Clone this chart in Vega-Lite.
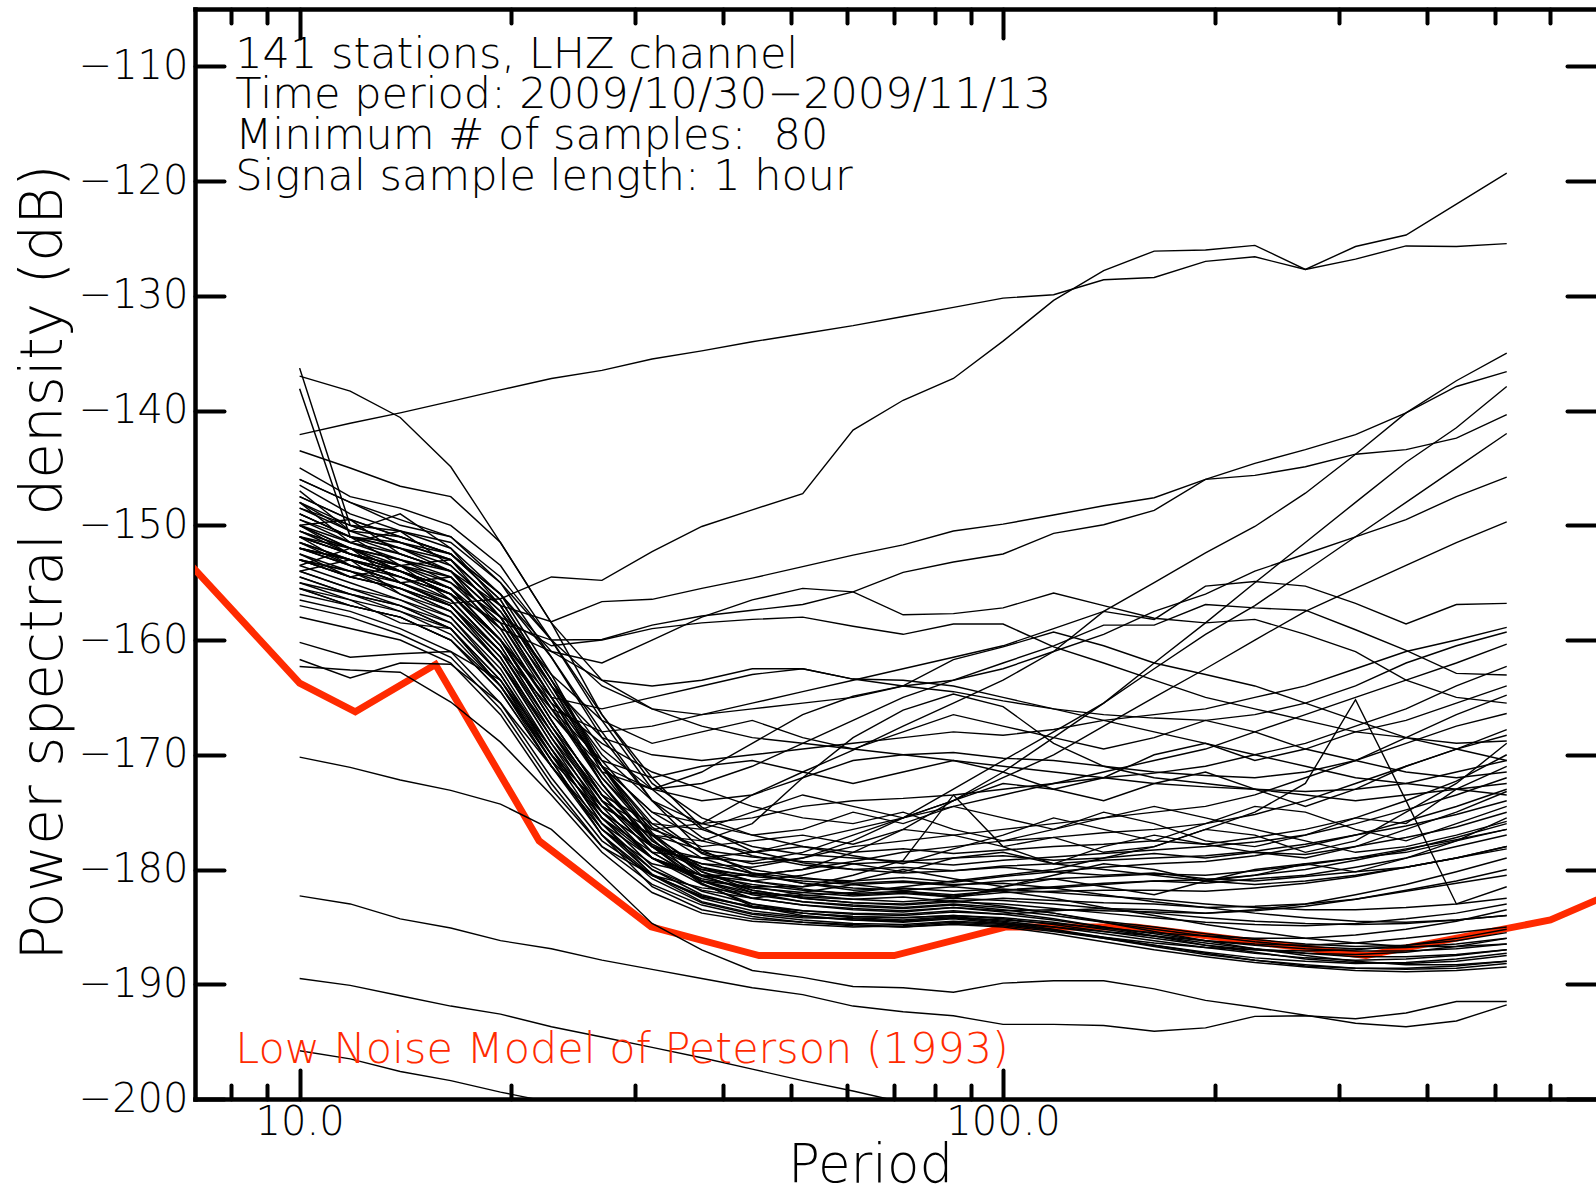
{
"$schema":"https://vega.github.io/schema/vega-lite/v6.json",
"width":1401,"height":1090,
"autosize":{"type":"none"},
"padding":{"left":195,"top":9,"right":0,"bottom":93},
"background":"white",
"config":{"view":{"stroke":null},"axis":{"grid":false,"labelFont":"DejaVu Sans","titleFont":"DejaVu Sans","labelFontWeight":200,"domainColor":"black","tickColor":"black","labelColor":"black","titleColor":"black","domainWidth":4.5,"tickWidth":4,"tickCap":"round","domainCap":"square"}},
"resolve":{"axis":{"x":"independent","y":"independent"}},
"datasets":{
"nlnm":[{"p":6,"v":-149},{"p":10,"v":-163.75},{"p":12,"v":-166.25},{"p":15.6,"v":-162.13},{"p":21.9,"v":-177.5},{"p":31.6,"v":-185},{"p":45,"v":-187.5},{"p":70,"v":-187.5},{"p":101,"v":-185},{"p":154,"v":-185},{"p":328,"v":-187.5},{"p":600,"v":-184.4},{"p":1000,"v":-178.5}],
"bundle":[
{"s":1,"p":10,"v":-143.5},{"s":1,"p":11.8,"v":-145},{"s":1,"p":13.9,"v":-146.6},{"s":1,"p":16.4,"v":-147.5},{"s":1,"p":19.3,"v":-151.5},{"s":1,"p":22.8,"v":-158.5},{"s":1,"p":26.9,"v":-166.5},{"s":1,"p":31.7,"v":-172.5},{"s":1,"p":37.3,"v":-175.5},{"s":1,"p":44,"v":-177},{"s":1,"p":51.9,"v":-178},{"s":1,"p":61.2,"v":-178.5},{"s":1,"p":72.1,"v":-178.2},{"s":1,"p":85,"v":-178.6},{"s":1,"p":100,"v":-178.3},{"s":1,"p":118,"v":-178},{"s":1,"p":139,"v":-177.8},{"s":1,"p":164,"v":-177.5},{"s":1,"p":194,"v":-177.8},{"s":1,"p":228,"v":-177.2},{"s":1,"p":269,"v":-176.5},{"s":1,"p":317,"v":-175.5},{"s":1,"p":374,"v":-174},{"s":1,"p":441,"v":-172.3},{"s":1,"p":520,"v":-170},
{"s":2,"p":10,"v":-145},{"s":2,"p":11.8,"v":-147.5},{"s":2,"p":13.9,"v":-148.5},{"s":2,"p":16.4,"v":-150},{"s":2,"p":19.3,"v":-153.5},{"s":2,"p":22.8,"v":-160},{"s":2,"p":26.9,"v":-167},{"s":2,"p":31.7,"v":-173},{"s":2,"p":37.3,"v":-176.5},{"s":2,"p":44,"v":-178},{"s":2,"p":51.9,"v":-178.7},{"s":2,"p":61.2,"v":-179},{"s":2,"p":72.1,"v":-179.3},{"s":2,"p":85,"v":-179},{"s":2,"p":100,"v":-178.8},{"s":2,"p":118,"v":-179.2},{"s":2,"p":139,"v":-179},{"s":2,"p":164,"v":-178.6},{"s":2,"p":194,"v":-179},{"s":2,"p":228,"v":-178.5},{"s":2,"p":269,"v":-178.7},{"s":2,"p":317,"v":-178},{"s":2,"p":374,"v":-177.2},{"s":2,"p":441,"v":-176.3},{"s":2,"p":520,"v":-175},
{"s":3,"p":10,"v":-146},{"s":3,"p":11.8,"v":-148},{"s":3,"p":13.9,"v":-150},{"s":3,"p":16.4,"v":-151},{"s":3,"p":19.3,"v":-155},{"s":3,"p":22.8,"v":-161.5},{"s":3,"p":26.9,"v":-168.5},{"s":3,"p":31.7,"v":-174},{"s":3,"p":37.3,"v":-177.2},{"s":3,"p":44,"v":-178.8},{"s":3,"p":51.9,"v":-179.6},{"s":3,"p":61.2,"v":-180},{"s":3,"p":72.1,"v":-180.3},{"s":3,"p":85,"v":-180.1},{"s":3,"p":100,"v":-179.8},{"s":3,"p":118,"v":-180.2},{"s":3,"p":139,"v":-180.5},{"s":3,"p":164,"v":-180.3},{"s":3,"p":194,"v":-180.8},{"s":3,"p":228,"v":-181},{"s":3,"p":269,"v":-180.6},{"s":3,"p":317,"v":-180.2},{"s":3,"p":374,"v":-179.8},{"s":3,"p":441,"v":-179},{"s":3,"p":520,"v":-178},
{"s":4,"p":10,"v":-148},{"s":4,"p":11.8,"v":-150.5},{"s":4,"p":13.9,"v":-151},{"s":4,"p":16.4,"v":-152.5},{"s":4,"p":19.3,"v":-156.5},{"s":4,"p":22.8,"v":-163.5},{"s":4,"p":26.9,"v":-170.5},{"s":4,"p":31.7,"v":-175.5},{"s":4,"p":37.3,"v":-178.6},{"s":4,"p":44,"v":-180},{"s":4,"p":51.9,"v":-180.7},{"s":4,"p":61.2,"v":-181.2},{"s":4,"p":72.1,"v":-181},{"s":4,"p":85,"v":-181.3},{"s":4,"p":100,"v":-181.2},{"s":4,"p":118,"v":-181.6},{"s":4,"p":139,"v":-182.2},{"s":4,"p":164,"v":-182.8},{"s":4,"p":194,"v":-183.3},{"s":4,"p":228,"v":-183.8},{"s":4,"p":269,"v":-184.2},{"s":4,"p":317,"v":-184.5},{"s":4,"p":374,"v":-184.6},{"s":4,"p":441,"v":-184.4},{"s":4,"p":520,"v":-184},
{"s":5,"p":10,"v":-149},{"s":5,"p":11.8,"v":-151},{"s":5,"p":13.9,"v":-152},{"s":5,"p":16.4,"v":-153.5},{"s":5,"p":19.3,"v":-157.5},{"s":5,"p":22.8,"v":-164.5},{"s":5,"p":26.9,"v":-171},{"s":5,"p":31.7,"v":-176.3},{"s":5,"p":37.3,"v":-179},{"s":5,"p":44,"v":-180.4},{"s":5,"p":51.9,"v":-181.2},{"s":5,"p":61.2,"v":-181.6},{"s":5,"p":72.1,"v":-181.8},{"s":5,"p":85,"v":-181.5},{"s":5,"p":100,"v":-181.9},{"s":5,"p":118,"v":-182.5},{"s":5,"p":139,"v":-183.3},{"s":5,"p":164,"v":-184},{"s":5,"p":194,"v":-184.8},{"s":5,"p":228,"v":-185.4},{"s":5,"p":269,"v":-186},{"s":5,"p":317,"v":-186.4},{"s":5,"p":374,"v":-186.7},{"s":5,"p":441,"v":-186.7},{"s":5,"p":520,"v":-186.5},
{"s":6,"p":10,"v":-150},{"s":6,"p":11.8,"v":-151.5},{"s":6,"p":13.9,"v":-153},{"s":6,"p":16.4,"v":-154},{"s":6,"p":19.3,"v":-158},{"s":6,"p":22.8,"v":-165},{"s":6,"p":26.9,"v":-172},{"s":6,"p":31.7,"v":-177},{"s":6,"p":37.3,"v":-179.8},{"s":6,"p":44,"v":-181},{"s":6,"p":51.9,"v":-181.7},{"s":6,"p":61.2,"v":-182.2},{"s":6,"p":72.1,"v":-182},{"s":6,"p":85,"v":-182.3},{"s":6,"p":100,"v":-181.8},{"s":6,"p":118,"v":-181.5},{"s":6,"p":139,"v":-181.2},{"s":6,"p":164,"v":-181},{"s":6,"p":194,"v":-181.2},{"s":6,"p":228,"v":-180.8},{"s":6,"p":269,"v":-180.5},{"s":6,"p":317,"v":-179.8},{"s":6,"p":374,"v":-179},{"s":6,"p":441,"v":-178},{"s":6,"p":520,"v":-177},
{"s":7,"p":10,"v":-150.5},{"s":7,"p":11.8,"v":-152.5},{"s":7,"p":13.9,"v":-153.5},{"s":7,"p":16.4,"v":-155},{"s":7,"p":19.3,"v":-159},{"s":7,"p":22.8,"v":-166},{"s":7,"p":26.9,"v":-172.5},{"s":7,"p":31.7,"v":-177.5},{"s":7,"p":37.3,"v":-180.2},{"s":7,"p":44,"v":-181.5},{"s":7,"p":51.9,"v":-182.2},{"s":7,"p":61.2,"v":-182.6},{"s":7,"p":72.1,"v":-182.4},{"s":7,"p":85,"v":-182.8},{"s":7,"p":100,"v":-182.5},{"s":7,"p":118,"v":-182.7},{"s":7,"p":139,"v":-182.9},{"s":7,"p":164,"v":-183},{"s":7,"p":194,"v":-183.3},{"s":7,"p":228,"v":-183.2},{"s":7,"p":269,"v":-183},{"s":7,"p":317,"v":-182.6},{"s":7,"p":374,"v":-181.8},{"s":7,"p":441,"v":-181},{"s":7,"p":520,"v":-180},
{"s":8,"p":10,"v":-151},{"s":8,"p":11.8,"v":-152},{"s":8,"p":13.9,"v":-154},{"s":8,"p":16.4,"v":-155.5},{"s":8,"p":19.3,"v":-160},{"s":8,"p":22.8,"v":-167},{"s":8,"p":26.9,"v":-173.5},{"s":8,"p":31.7,"v":-178},{"s":8,"p":37.3,"v":-180.6},{"s":8,"p":44,"v":-181.8},{"s":8,"p":51.9,"v":-182.5},{"s":8,"p":61.2,"v":-182.9},{"s":8,"p":72.1,"v":-183.1},{"s":8,"p":85,"v":-182.8},{"s":8,"p":100,"v":-183},{"s":8,"p":118,"v":-183.4},{"s":8,"p":139,"v":-183.8},{"s":8,"p":164,"v":-184.2},{"s":8,"p":194,"v":-184.6},{"s":8,"p":228,"v":-184.8},{"s":8,"p":269,"v":-184.9},{"s":8,"p":317,"v":-184.7},{"s":8,"p":374,"v":-184.3},{"s":8,"p":441,"v":-183.8},{"s":8,"p":520,"v":-183},
{"s":9,"p":10,"v":-151.5},{"s":9,"p":11.8,"v":-153},{"s":9,"p":13.9,"v":-154},{"s":9,"p":16.4,"v":-156},{"s":9,"p":19.3,"v":-160.5},{"s":9,"p":22.8,"v":-167.5},{"s":9,"p":26.9,"v":-174},{"s":9,"p":31.7,"v":-178.5},{"s":9,"p":37.3,"v":-181},{"s":9,"p":44,"v":-182.2},{"s":9,"p":51.9,"v":-182.8},{"s":9,"p":61.2,"v":-183.1},{"s":9,"p":72.1,"v":-183.3},{"s":9,"p":85,"v":-183},{"s":9,"p":100,"v":-183.3},{"s":9,"p":118,"v":-183.8},{"s":9,"p":139,"v":-184.5},{"s":9,"p":164,"v":-185},{"s":9,"p":194,"v":-185.6},{"s":9,"p":228,"v":-186.1},{"s":9,"p":269,"v":-186.5},{"s":9,"p":317,"v":-186.7},{"s":9,"p":374,"v":-186.6},{"s":9,"p":441,"v":-186.2},{"s":9,"p":520,"v":-185.5},
{"s":10,"p":10,"v":-152},{"s":10,"p":11.8,"v":-153.5},{"s":10,"p":13.9,"v":-155},{"s":10,"p":16.4,"v":-156.5},{"s":10,"p":19.3,"v":-161},{"s":10,"p":22.8,"v":-168},{"s":10,"p":26.9,"v":-174.5},{"s":10,"p":31.7,"v":-179},{"s":10,"p":37.3,"v":-181.3},{"s":10,"p":44,"v":-182.5},{"s":10,"p":51.9,"v":-183.1},{"s":10,"p":61.2,"v":-183.4},{"s":10,"p":72.1,"v":-183.6},{"s":10,"p":85,"v":-183.3},{"s":10,"p":100,"v":-183.7},{"s":10,"p":118,"v":-184.3},{"s":10,"p":139,"v":-185},{"s":10,"p":164,"v":-185.8},{"s":10,"p":194,"v":-186.6},{"s":10,"p":228,"v":-187.2},{"s":10,"p":269,"v":-187.8},{"s":10,"p":317,"v":-188.1},{"s":10,"p":374,"v":-188.2},{"s":10,"p":441,"v":-188},{"s":10,"p":520,"v":-187.5},
{"s":11,"p":10,"v":-153},{"s":11,"p":11.8,"v":-154.5},{"s":11,"p":13.9,"v":-155.5},{"s":11,"p":16.4,"v":-157.5},{"s":11,"p":19.3,"v":-162},{"s":11,"p":22.8,"v":-169},{"s":11,"p":26.9,"v":-175.5},{"s":11,"p":31.7,"v":-179.7},{"s":11,"p":37.3,"v":-181.9},{"s":11,"p":44,"v":-183},{"s":11,"p":51.9,"v":-183.6},{"s":11,"p":61.2,"v":-183.9},{"s":11,"p":72.1,"v":-184},{"s":11,"p":85,"v":-183.7},{"s":11,"p":100,"v":-183.9},{"s":11,"p":118,"v":-183.6},{"s":11,"p":139,"v":-183.4},{"s":11,"p":164,"v":-183.5},{"s":11,"p":194,"v":-183.8},{"s":11,"p":228,"v":-183.5},{"s":11,"p":269,"v":-183},{"s":11,"p":317,"v":-182.2},{"s":11,"p":374,"v":-181.3},{"s":11,"p":441,"v":-180.2},{"s":11,"p":520,"v":-179},
{"s":12,"p":10,"v":-153.5},{"s":12,"p":11.8,"v":-155},{"s":12,"p":13.9,"v":-156.5},{"s":12,"p":16.4,"v":-158},{"s":12,"p":19.3,"v":-162.5},{"s":12,"p":22.8,"v":-169.5},{"s":12,"p":26.9,"v":-176},{"s":12,"p":31.7,"v":-180},{"s":12,"p":37.3,"v":-182.2},{"s":12,"p":44,"v":-183.3},{"s":12,"p":51.9,"v":-183.8},{"s":12,"p":61.2,"v":-184.1},{"s":12,"p":72.1,"v":-184.2},{"s":12,"p":85,"v":-184},{"s":12,"p":100,"v":-184.3},{"s":12,"p":118,"v":-184.8},{"s":12,"p":139,"v":-185.4},{"s":12,"p":164,"v":-186},{"s":12,"p":194,"v":-186.6},{"s":12,"p":228,"v":-187},{"s":12,"p":269,"v":-187.3},{"s":12,"p":317,"v":-187.4},{"s":12,"p":374,"v":-187.2},{"s":12,"p":441,"v":-186.7},{"s":12,"p":520,"v":-186},
{"s":13,"p":10,"v":-154},{"s":13,"p":11.8,"v":-155.5},{"s":13,"p":13.9,"v":-157},{"s":13,"p":16.4,"v":-158.5},{"s":13,"p":19.3,"v":-163},{"s":13,"p":22.8,"v":-170},{"s":13,"p":26.9,"v":-176.5},{"s":13,"p":31.7,"v":-180.4},{"s":13,"p":37.3,"v":-182.5},{"s":13,"p":44,"v":-183.6},{"s":13,"p":51.9,"v":-184.1},{"s":13,"p":61.2,"v":-184.4},{"s":13,"p":72.1,"v":-184.5},{"s":13,"p":85,"v":-184.2},{"s":13,"p":100,"v":-184.6},{"s":13,"p":118,"v":-185.2},{"s":13,"p":139,"v":-185.9},{"s":13,"p":164,"v":-186.6},{"s":13,"p":194,"v":-187.3},{"s":13,"p":228,"v":-187.9},{"s":13,"p":269,"v":-188.4},{"s":13,"p":317,"v":-188.6},{"s":13,"p":374,"v":-188.6},{"s":13,"p":441,"v":-188.4},{"s":13,"p":520,"v":-188},
{"s":14,"p":10,"v":-154.5},{"s":14,"p":11.8,"v":-156},{"s":14,"p":13.9,"v":-157},{"s":14,"p":16.4,"v":-159},{"s":14,"p":19.3,"v":-163.5},{"s":14,"p":22.8,"v":-170.5},{"s":14,"p":26.9,"v":-177},{"s":14,"p":31.7,"v":-180.8},{"s":14,"p":37.3,"v":-182.9},{"s":14,"p":44,"v":-183.9},{"s":14,"p":51.9,"v":-184.4},{"s":14,"p":61.2,"v":-184.7},{"s":14,"p":72.1,"v":-184.8},{"s":14,"p":85,"v":-184.5},{"s":14,"p":100,"v":-184.7},{"s":14,"p":118,"v":-185},{"s":14,"p":139,"v":-185.4},{"s":14,"p":164,"v":-185.8},{"s":14,"p":194,"v":-186.2},{"s":14,"p":228,"v":-186.5},{"s":14,"p":269,"v":-186.6},{"s":14,"p":317,"v":-186.4},{"s":14,"p":374,"v":-186},{"s":14,"p":441,"v":-185.5},{"s":14,"p":520,"v":-185},
{"s":15,"p":10,"v":-155},{"s":15,"p":11.8,"v":-156},{"s":15,"p":13.9,"v":-157.5},{"s":15,"p":16.4,"v":-159},{"s":15,"p":19.3,"v":-164},{"s":15,"p":22.8,"v":-170.5},{"s":15,"p":26.9,"v":-175},{"s":15,"p":31.7,"v":-178},{"s":15,"p":37.3,"v":-179.5},{"s":15,"p":44,"v":-180.3},{"s":15,"p":51.9,"v":-180.8},{"s":15,"p":61.2,"v":-181},{"s":15,"p":72.1,"v":-180.7},{"s":15,"p":85,"v":-181.1},{"s":15,"p":100,"v":-180.6},{"s":15,"p":118,"v":-180.2},{"s":15,"p":139,"v":-179.8},{"s":15,"p":164,"v":-179.5},{"s":15,"p":194,"v":-179.3},{"s":15,"p":228,"v":-178.8},{"s":15,"p":269,"v":-178},{"s":15,"p":317,"v":-177},{"s":15,"p":374,"v":-175.8},{"s":15,"p":441,"v":-174.5},{"s":15,"p":520,"v":-173},
{"s":16,"p":10,"v":-155.5},{"s":16,"p":11.8,"v":-157},{"s":16,"p":13.9,"v":-158},{"s":16,"p":16.4,"v":-160},{"s":16,"p":19.3,"v":-164.5},{"s":16,"p":22.8,"v":-171},{"s":16,"p":26.9,"v":-176},{"s":16,"p":31.7,"v":-179},{"s":16,"p":37.3,"v":-180.5},{"s":16,"p":44,"v":-181.3},{"s":16,"p":51.9,"v":-181.8},{"s":16,"p":61.2,"v":-182.1},{"s":16,"p":72.1,"v":-181.9},{"s":16,"p":85,"v":-182.2},{"s":16,"p":100,"v":-181.8},{"s":16,"p":118,"v":-181.6},{"s":16,"p":139,"v":-181.3},{"s":16,"p":164,"v":-181},{"s":16,"p":194,"v":-180.9},{"s":16,"p":228,"v":-180.5},{"s":16,"p":269,"v":-180},{"s":16,"p":317,"v":-179.2},{"s":16,"p":374,"v":-178.3},{"s":16,"p":441,"v":-177.2},{"s":16,"p":520,"v":-176},
{"s":17,"p":10,"v":-156.5},{"s":17,"p":11.8,"v":-157.5},{"s":17,"p":13.9,"v":-159},{"s":17,"p":16.4,"v":-161},{"s":17,"p":19.3,"v":-165.5},{"s":17,"p":22.8,"v":-172},{"s":17,"p":26.9,"v":-177.5},{"s":17,"p":31.7,"v":-180.5},{"s":17,"p":37.3,"v":-182.3},{"s":17,"p":44,"v":-183.3},{"s":17,"p":51.9,"v":-183.8},{"s":17,"p":61.2,"v":-184.1},{"s":17,"p":72.1,"v":-184.2},{"s":17,"p":85,"v":-184},{"s":17,"p":100,"v":-184.2},{"s":17,"p":118,"v":-184.6},{"s":17,"p":139,"v":-185.2},{"s":17,"p":164,"v":-185.8},{"s":17,"p":194,"v":-186.4},{"s":17,"p":228,"v":-186.9},{"s":17,"p":269,"v":-187.3},{"s":17,"p":317,"v":-187.6},{"s":17,"p":374,"v":-187.6},{"s":17,"p":441,"v":-187.4},{"s":17,"p":520,"v":-187},
{"s":18,"p":10,"v":-157},{"s":18,"p":11.8,"v":-158},{"s":18,"p":13.9,"v":-159.5},{"s":18,"p":16.4,"v":-161.5},{"s":18,"p":19.3,"v":-166},{"s":18,"p":22.8,"v":-172.5},{"s":18,"p":26.9,"v":-178},{"s":18,"p":31.7,"v":-181.3},{"s":18,"p":37.3,"v":-183.1},{"s":18,"p":44,"v":-184.1},{"s":18,"p":51.9,"v":-184.6},{"s":18,"p":61.2,"v":-184.9},{"s":18,"p":72.1,"v":-185},{"s":18,"p":85,"v":-184.8},{"s":18,"p":100,"v":-185},{"s":18,"p":118,"v":-185.6},{"s":18,"p":139,"v":-186.3},{"s":18,"p":164,"v":-187},{"s":18,"p":194,"v":-187.6},{"s":18,"p":228,"v":-188.1},{"s":18,"p":269,"v":-188.5},{"s":18,"p":317,"v":-188.8},{"s":18,"p":374,"v":-188.9},{"s":18,"p":441,"v":-188.8},{"s":18,"p":520,"v":-188.5},
{"s":19,"p":10,"v":-158},{"s":19,"p":11.8,"v":-159},{"s":19,"p":13.9,"v":-160},{"s":19,"p":16.4,"v":-162},{"s":19,"p":19.3,"v":-166.5},{"s":19,"p":22.8,"v":-173},{"s":19,"p":26.9,"v":-178},{"s":19,"p":31.7,"v":-180.5},{"s":19,"p":37.3,"v":-181.6},{"s":19,"p":44,"v":-182.1},{"s":19,"p":51.9,"v":-182.4},{"s":19,"p":61.2,"v":-182.6},{"s":19,"p":72.1,"v":-182.8},{"s":19,"p":85,"v":-182.5},{"s":19,"p":100,"v":-182.7},{"s":19,"p":118,"v":-183},{"s":19,"p":139,"v":-183.4},{"s":19,"p":164,"v":-183.8},{"s":19,"p":194,"v":-184.2},{"s":19,"p":228,"v":-184.5},{"s":19,"p":269,"v":-184.7},{"s":19,"p":317,"v":-184.8},{"s":19,"p":374,"v":-184.7},{"s":19,"p":441,"v":-184.4},{"s":19,"p":520,"v":-184},
{"s":20,"p":10,"v":-148.5},{"s":20,"p":11.8,"v":-150.5},{"s":20,"p":13.9,"v":-152},{"s":20,"p":16.4,"v":-153},{"s":20,"p":19.3,"v":-157},{"s":20,"p":22.8,"v":-164},{"s":20,"p":26.9,"v":-171.5},{"s":20,"p":31.7,"v":-177},{"s":20,"p":37.3,"v":-180.5},{"s":20,"p":44,"v":-182},{"s":20,"p":51.9,"v":-182.8},{"s":20,"p":61.2,"v":-183.2},{"s":20,"p":72.1,"v":-183.4},{"s":20,"p":85,"v":-183.1},{"s":20,"p":100,"v":-183.5},{"s":20,"p":118,"v":-184},{"s":20,"p":139,"v":-184.6},{"s":20,"p":164,"v":-185.2},{"s":20,"p":194,"v":-185.8},{"s":20,"p":228,"v":-186.3},{"s":20,"p":269,"v":-186.7},{"s":20,"p":317,"v":-186.9},{"s":20,"p":374,"v":-186.8},{"s":20,"p":441,"v":-186.5},{"s":20,"p":520,"v":-186},
{"s":21,"p":10,"v":-150},{"s":21,"p":11.8,"v":-152},{"s":21,"p":13.9,"v":-153.5},{"s":21,"p":16.4,"v":-154.5},{"s":21,"p":19.3,"v":-158.5},{"s":21,"p":22.8,"v":-165.5},{"s":21,"p":26.9,"v":-172.5},{"s":21,"p":31.7,"v":-178},{"s":21,"p":37.3,"v":-181.3},{"s":21,"p":44,"v":-183},{"s":21,"p":51.9,"v":-183.8},{"s":21,"p":61.2,"v":-184.2},{"s":21,"p":72.1,"v":-184.4},{"s":21,"p":85,"v":-184.1},{"s":21,"p":100,"v":-184.5},{"s":21,"p":118,"v":-185},{"s":21,"p":139,"v":-185.6},{"s":21,"p":164,"v":-186.2},{"s":21,"p":194,"v":-186.8},{"s":21,"p":228,"v":-187.3},{"s":21,"p":269,"v":-187.7},{"s":21,"p":317,"v":-187.9},{"s":21,"p":374,"v":-187.8},{"s":21,"p":441,"v":-187.5},{"s":21,"p":520,"v":-187},
{"s":22,"p":10,"v":-138.1},{"s":22,"p":11.8,"v":-151},{"s":22,"p":13.9,"v":-151.5},{"s":22,"p":16.4,"v":-152.5},{"s":22,"p":19.3,"v":-156},{"s":22,"p":22.8,"v":-161.5},{"s":22,"p":26.9,"v":-168},{"s":22,"p":31.7,"v":-174},{"s":22,"p":37.3,"v":-178.3},{"s":22,"p":44,"v":-180.3},{"s":22,"p":51.9,"v":-181.2},{"s":22,"p":61.2,"v":-181.8},{"s":22,"p":72.1,"v":-181.6},{"s":22,"p":85,"v":-181.9},{"s":22,"p":100,"v":-181.7},{"s":22,"p":118,"v":-182},{"s":22,"p":139,"v":-182.3},{"s":22,"p":164,"v":-182.6},{"s":22,"p":194,"v":-183},{"s":22,"p":228,"v":-183.3},{"s":22,"p":269,"v":-183.5},{"s":22,"p":317,"v":-183.5},{"s":22,"p":374,"v":-183.3},{"s":22,"p":441,"v":-183},{"s":22,"p":520,"v":-182.5},
{"s":23,"p":10,"v":-136.3},{"s":23,"p":11.8,"v":-150},{"s":23,"p":13.9,"v":-150.5},{"s":23,"p":16.4,"v":-151.5},{"s":23,"p":19.3,"v":-155},{"s":23,"p":22.8,"v":-160},{"s":23,"p":26.9,"v":-166.5},{"s":23,"p":31.7,"v":-172},{"s":23,"p":37.3,"v":-176.3},{"s":23,"p":44,"v":-178.4},{"s":23,"p":51.9,"v":-179.4},{"s":23,"p":61.2,"v":-180},{"s":23,"p":72.1,"v":-179.8},{"s":23,"p":85,"v":-180.1},{"s":23,"p":100,"v":-179.7},{"s":23,"p":118,"v":-179.5},{"s":23,"p":139,"v":-179.2},{"s":23,"p":164,"v":-179},{"s":23,"p":194,"v":-178.8},{"s":23,"p":228,"v":-178.4},{"s":23,"p":269,"v":-177.8},{"s":23,"p":317,"v":-177},{"s":23,"p":374,"v":-176.2},{"s":23,"p":441,"v":-175.2},{"s":23,"p":520,"v":-174},
{"s":24,"p":10,"v":-147.5},{"s":24,"p":11.8,"v":-149.5},{"s":24,"p":13.9,"v":-151},{"s":24,"p":16.4,"v":-152.5},{"s":24,"p":19.3,"v":-156.5},{"s":24,"p":22.8,"v":-163.5},{"s":24,"p":26.9,"v":-171},{"s":24,"p":31.7,"v":-176.8},{"s":24,"p":37.3,"v":-180.2},{"s":24,"p":44,"v":-181.8},{"s":24,"p":51.9,"v":-182.5},{"s":24,"p":61.2,"v":-182.9},{"s":24,"p":72.1,"v":-183},{"s":24,"p":85,"v":-182.7},{"s":24,"p":100,"v":-183.2},{"s":24,"p":118,"v":-183.8},{"s":24,"p":139,"v":-184.6},{"s":24,"p":164,"v":-185.4},{"s":24,"p":194,"v":-186.2},{"s":24,"p":228,"v":-186.9},{"s":24,"p":269,"v":-187.5},{"s":24,"p":317,"v":-188},{"s":24,"p":374,"v":-188.3},{"s":24,"p":441,"v":-188.3},{"s":24,"p":520,"v":-188},
{"s":25,"p":10,"v":-149.5},{"s":25,"p":11.8,"v":-151.5},{"s":25,"p":13.9,"v":-152.5},{"s":25,"p":16.4,"v":-154},{"s":25,"p":19.3,"v":-158},{"s":25,"p":22.8,"v":-165},{"s":25,"p":26.9,"v":-172.5},{"s":25,"p":31.7,"v":-178},{"s":25,"p":37.3,"v":-181},{"s":25,"p":44,"v":-182.5},{"s":25,"p":51.9,"v":-183.1},{"s":25,"p":61.2,"v":-183.5},{"s":25,"p":72.1,"v":-183.7},{"s":25,"p":85,"v":-183.3},{"s":25,"p":100,"v":-183.6},{"s":25,"p":118,"v":-183.5},{"s":25,"p":139,"v":-183.6},{"s":25,"p":164,"v":-183.7},{"s":25,"p":194,"v":-183.8},{"s":25,"p":228,"v":-183.6},{"s":25,"p":269,"v":-183.2},{"s":25,"p":317,"v":-182.6},{"s":25,"p":374,"v":-181.9},{"s":25,"p":441,"v":-181.2},{"s":25,"p":520,"v":-180.5},
{"s":26,"p":10,"v":-153},{"s":26,"p":11.8,"v":-154},{"s":26,"p":13.9,"v":-155.5},{"s":26,"p":16.4,"v":-157},{"s":26,"p":19.3,"v":-161.5},{"s":26,"p":22.8,"v":-168.5},{"s":26,"p":26.9,"v":-175},{"s":26,"p":31.7,"v":-179},{"s":26,"p":37.3,"v":-180.8},{"s":26,"p":44,"v":-181.6},{"s":26,"p":51.9,"v":-182},{"s":26,"p":61.2,"v":-182.3},{"s":26,"p":72.1,"v":-182.1},{"s":26,"p":85,"v":-182.4},{"s":26,"p":100,"v":-182},{"s":26,"p":118,"v":-181.9},{"s":26,"p":139,"v":-181.8},{"s":26,"p":164,"v":-181.8},{"s":26,"p":194,"v":-181.9},{"s":26,"p":228,"v":-181.6},{"s":26,"p":269,"v":-181.2},{"s":26,"p":317,"v":-180.6},{"s":26,"p":374,"v":-179.8},{"s":26,"p":441,"v":-179},{"s":26,"p":520,"v":-178},
{"s":27,"p":10,"v":-151},{"s":27,"p":11.8,"v":-152.5},{"s":27,"p":13.9,"v":-153.5},{"s":27,"p":16.4,"v":-155.5},{"s":27,"p":19.3,"v":-160},{"s":27,"p":22.8,"v":-167},{"s":27,"p":26.9,"v":-173.5},{"s":27,"p":31.7,"v":-177.8},{"s":27,"p":37.3,"v":-179.8},{"s":27,"p":44,"v":-180.6},{"s":27,"p":51.9,"v":-181},{"s":27,"p":61.2,"v":-181.3},{"s":27,"p":72.1,"v":-181.1},{"s":27,"p":85,"v":-181.4},{"s":27,"p":100,"v":-181},{"s":27,"p":118,"v":-180.8},{"s":27,"p":139,"v":-180.6},{"s":27,"p":164,"v":-180.4},{"s":27,"p":194,"v":-180.5},{"s":27,"p":228,"v":-180.1},{"s":27,"p":269,"v":-179.6},{"s":27,"p":317,"v":-179},{"s":27,"p":374,"v":-178.2},{"s":27,"p":441,"v":-177.4},{"s":27,"p":520,"v":-176.5},
{"s":28,"p":10,"v":-155},{"s":28,"p":11.8,"v":-156.5},{"s":28,"p":13.9,"v":-157.5},{"s":28,"p":16.4,"v":-159.5},{"s":28,"p":19.3,"v":-164},{"s":28,"p":22.8,"v":-170.5},{"s":28,"p":26.9,"v":-177},{"s":28,"p":31.7,"v":-180.5},{"s":28,"p":37.3,"v":-182.4},{"s":28,"p":44,"v":-183.2},{"s":28,"p":51.9,"v":-183.6},{"s":28,"p":61.2,"v":-183.8},{"s":28,"p":72.1,"v":-183.9},{"s":28,"p":85,"v":-183.6},{"s":28,"p":100,"v":-183.9},{"s":28,"p":118,"v":-184.4},{"s":28,"p":139,"v":-185},{"s":28,"p":164,"v":-185.6},{"s":28,"p":194,"v":-186.2},{"s":28,"p":228,"v":-186.6},{"s":28,"p":269,"v":-186.9},{"s":28,"p":317,"v":-187.1},{"s":28,"p":374,"v":-187.1},{"s":28,"p":441,"v":-186.9},{"s":28,"p":520,"v":-186.5},
{"s":29,"p":10,"v":-146.5},{"s":29,"p":11.8,"v":-149},{"s":29,"p":13.9,"v":-150.5},{"s":29,"p":16.4,"v":-152},{"s":29,"p":19.3,"v":-156},{"s":29,"p":22.8,"v":-163},{"s":29,"p":26.9,"v":-171},{"s":29,"p":31.7,"v":-177.3},{"s":29,"p":37.3,"v":-181.2},{"s":29,"p":44,"v":-183.2},{"s":29,"p":51.9,"v":-184},{"s":29,"p":61.2,"v":-184.4},{"s":29,"p":72.1,"v":-184.6},{"s":29,"p":85,"v":-184.3},{"s":29,"p":100,"v":-184.7},{"s":29,"p":118,"v":-185.3},{"s":29,"p":139,"v":-186},{"s":29,"p":164,"v":-186.7},{"s":29,"p":194,"v":-187.4},{"s":29,"p":228,"v":-187.9},{"s":29,"p":269,"v":-188.3},{"s":29,"p":317,"v":-188.6},{"s":29,"p":374,"v":-188.7},{"s":29,"p":441,"v":-188.6},{"s":29,"p":520,"v":-188.2},
{"s":30,"p":10,"v":-156},{"s":30,"p":11.8,"v":-157},{"s":30,"p":13.9,"v":-158},{"s":30,"p":16.4,"v":-160},{"s":30,"p":19.3,"v":-164},{"s":30,"p":22.8,"v":-170},{"s":30,"p":26.9,"v":-174.5},{"s":30,"p":31.7,"v":-177},{"s":30,"p":37.3,"v":-178.3},{"s":30,"p":44,"v":-178.9},{"s":30,"p":51.9,"v":-179.3},{"s":30,"p":61.2,"v":-179.5},{"s":30,"p":72.1,"v":-179.3},{"s":30,"p":85,"v":-179.6},{"s":30,"p":100,"v":-179.2},{"s":30,"p":118,"v":-178.9},{"s":30,"p":139,"v":-178.6},{"s":30,"p":164,"v":-178.3},{"s":30,"p":194,"v":-178},{"s":30,"p":228,"v":-177.6},{"s":30,"p":269,"v":-177},{"s":30,"p":317,"v":-176},{"s":30,"p":374,"v":-174.8},{"s":30,"p":441,"v":-173.5},{"s":30,"p":520,"v":-172},
{"s":31,"p":10,"v":-161.7},{"s":31,"p":11.8,"v":-163.3},{"s":31,"p":13.9,"v":-162},{"s":31,"p":16.4,"v":-162.1},{"s":31,"p":19.3,"v":-165.5},{"s":31,"p":22.8,"v":-171},{"s":31,"p":26.9,"v":-177},{"s":31,"p":31.7,"v":-181.5},{"s":31,"p":37.3,"v":-183.5},{"s":31,"p":44,"v":-184.3},{"s":31,"p":51.9,"v":-184.6},{"s":31,"p":61.2,"v":-184.8},{"s":31,"p":72.1,"v":-185},{"s":31,"p":85,"v":-184.7},{"s":31,"p":100,"v":-184.9},{"s":31,"p":118,"v":-185.4},{"s":31,"p":139,"v":-186},{"s":31,"p":164,"v":-186.6},{"s":31,"p":194,"v":-187.2},{"s":31,"p":228,"v":-187.7},{"s":31,"p":269,"v":-188},{"s":31,"p":317,"v":-188.2},{"s":31,"p":374,"v":-188.1},{"s":31,"p":441,"v":-187.8},{"s":31,"p":520,"v":-187.3},
{"s":32,"p":10,"v":-162.3},{"s":32,"p":11.8,"v":-162.6},{"s":32,"p":13.9,"v":-162.8},{"s":32,"p":16.4,"v":-165.4},{"s":32,"p":19.3,"v":-168.9},{"s":32,"p":22.8,"v":-173.5},{"s":32,"p":26.9,"v":-178.5},{"s":32,"p":31.7,"v":-182},{"s":32,"p":37.3,"v":-183.8},{"s":32,"p":44,"v":-184.5},{"s":32,"p":51.9,"v":-184.8},{"s":32,"p":61.2,"v":-185},{"s":32,"p":72.1,"v":-184.9},{"s":32,"p":85,"v":-184.6},{"s":32,"p":100,"v":-184.8},{"s":32,"p":118,"v":-185.3},{"s":32,"p":139,"v":-185.9},{"s":32,"p":164,"v":-186.4},{"s":32,"p":194,"v":-186.8},{"s":32,"p":228,"v":-187},{"s":32,"p":269,"v":-187.1},{"s":32,"p":317,"v":-187},{"s":32,"p":374,"v":-186.6},{"s":32,"p":441,"v":-186},{"s":32,"p":520,"v":-185.2},
{"s":33,"p":10,"v":-160.2},{"s":33,"p":11.8,"v":-161.5},{"s":33,"p":13.9,"v":-161.2},{"s":33,"p":16.4,"v":-161},{"s":33,"p":19.3,"v":-163.5},{"s":33,"p":22.8,"v":-169.5},{"s":33,"p":26.9,"v":-176},{"s":33,"p":31.7,"v":-180.5},{"s":33,"p":37.3,"v":-182.8},{"s":33,"p":44,"v":-183.8},{"s":33,"p":51.9,"v":-184.2},{"s":33,"p":61.2,"v":-184.3},{"s":33,"p":72.1,"v":-184.5},{"s":33,"p":85,"v":-184.2},{"s":33,"p":100,"v":-184.4},{"s":33,"p":118,"v":-184.7},{"s":33,"p":139,"v":-185.1},{"s":33,"p":164,"v":-185.5},{"s":33,"p":194,"v":-185.8},{"s":33,"p":228,"v":-186},{"s":33,"p":269,"v":-186},{"s":33,"p":317,"v":-185.7},{"s":33,"p":374,"v":-185.2},{"s":33,"p":441,"v":-184.5},{"s":33,"p":520,"v":-183.5}
],
"others":[
{"s":101,"p":10,"v":-142.1},{"s":101,"p":11.8,"v":-141.1},{"s":101,"p":13.9,"v":-140.2},{"s":101,"p":16.4,"v":-139.2},{"s":101,"p":19.3,"v":-138.2},{"s":101,"p":22.8,"v":-137.2},{"s":101,"p":26.9,"v":-136.5},{"s":101,"p":31.7,"v":-135.5},{"s":101,"p":37.3,"v":-134.8},{"s":101,"p":44,"v":-134},{"s":101,"p":51.9,"v":-133.3},{"s":101,"p":61.2,"v":-132.6},{"s":101,"p":72.1,"v":-131.8},{"s":101,"p":85,"v":-131},{"s":101,"p":100,"v":-130.2},{"s":101,"p":118,"v":-129.9},{"s":101,"p":139,"v":-128.6},{"s":101,"p":164,"v":-128.4},{"s":101,"p":194,"v":-127},{"s":101,"p":228,"v":-126.6},{"s":101,"p":269,"v":-127.7},{"s":101,"p":317,"v":-126.8},{"s":101,"p":374,"v":-125.65},{"s":101,"p":441,"v":-125.7},{"s":101,"p":520,"v":-125.45},
{"s":102,"p":10,"v":-151.5},{"s":102,"p":11.8,"v":-153.5},{"s":102,"p":13.9,"v":-155},{"s":102,"p":16.4,"v":-156.8},{"s":102,"p":19.3,"v":-156.4},{"s":102,"p":22.8,"v":-154.5},{"s":102,"p":26.9,"v":-154.8},{"s":102,"p":31.7,"v":-152.3},{"s":102,"p":37.3,"v":-150.1},{"s":102,"p":44,"v":-148.65},{"s":102,"p":51.9,"v":-147.25},{"s":102,"p":61.2,"v":-141.7},{"s":102,"p":72.1,"v":-139.1},{"s":102,"p":85,"v":-137.2},{"s":102,"p":100,"v":-133.95},{"s":102,"p":118,"v":-130.4},{"s":102,"p":139,"v":-127.8},{"s":102,"p":164,"v":-126.1},{"s":102,"p":194,"v":-126},{"s":102,"p":228,"v":-125.6},{"s":102,"p":269,"v":-127.7},{"s":102,"p":317,"v":-125.7},{"s":102,"p":374,"v":-124.7},{"s":102,"p":441,"v":-122},{"s":102,"p":520,"v":-119.3},
{"s":103,"p":10,"v":-137},{"s":103,"p":11.8,"v":-138.3},{"s":103,"p":13.9,"v":-140.6},{"s":103,"p":16.4,"v":-144.9},{"s":103,"p":19.3,"v":-151.5},{"s":103,"p":22.8,"v":-158.5},{"s":103,"p":26.9,"v":-163.5},{"s":103,"p":31.7,"v":-166},{"s":103,"p":37.3,"v":-167.5},{"s":103,"p":44,"v":-168.5},{"s":103,"p":51.9,"v":-169},{"s":103,"p":61.2,"v":-169.5},{"s":103,"p":72.1,"v":-170},{"s":103,"p":85,"v":-170.5},{"s":103,"p":100,"v":-171},{"s":103,"p":118,"v":-171.5},{"s":103,"p":139,"v":-172},{"s":103,"p":164,"v":-172.5},{"s":103,"p":194,"v":-172.8},{"s":103,"p":228,"v":-173},{"s":103,"p":269,"v":-173.2},{"s":103,"p":317,"v":-173},{"s":103,"p":374,"v":-172.5},{"s":103,"p":441,"v":-171.5},{"s":103,"p":520,"v":-170.5},
{"s":104,"p":10,"v":-182.3},{"s":104,"p":11.8,"v":-183},{"s":104,"p":13.9,"v":-184.3},{"s":104,"p":16.4,"v":-185.1},{"s":104,"p":19.3,"v":-186.2},{"s":104,"p":22.8,"v":-186.9},{"s":104,"p":26.9,"v":-187.9},{"s":104,"p":31.7,"v":-188.7},{"s":104,"p":37.3,"v":-189.5},{"s":104,"p":44,"v":-190.3},{"s":104,"p":51.9,"v":-190.9},{"s":104,"p":61.2,"v":-191.9},{"s":104,"p":72.1,"v":-192.4},{"s":104,"p":85,"v":-192.75},{"s":104,"p":100,"v":-193.5},{"s":104,"p":118,"v":-193.5},{"s":104,"p":139,"v":-193.6},{"s":104,"p":164,"v":-194.1},{"s":104,"p":194,"v":-193.8},{"s":104,"p":228,"v":-192.8},{"s":104,"p":269,"v":-192.75},{"s":104,"p":317,"v":-193},{"s":104,"p":374,"v":-192.5},{"s":104,"p":441,"v":-191.5},{"s":104,"p":520,"v":-191.5},
{"s":105,"p":10,"v":-189.5},{"s":105,"p":11.8,"v":-190.1},{"s":105,"p":13.9,"v":-191},{"s":105,"p":16.4,"v":-191.9},{"s":105,"p":19.3,"v":-192.6},{"s":105,"p":22.8,"v":-193.7},{"s":105,"p":26.9,"v":-194.6},{"s":105,"p":31.7,"v":-195.5},{"s":105,"p":37.3,"v":-196.4},{"s":105,"p":44,"v":-197.4},{"s":105,"p":51.9,"v":-198.4},{"s":105,"p":61.2,"v":-199.3},{"s":105,"p":72.1,"v":-200.3},
{"s":106,"p":10,"v":-170.2},{"s":106,"p":11.8,"v":-171.1},{"s":106,"p":13.9,"v":-172.2},{"s":106,"p":16.4,"v":-173.1},{"s":106,"p":19.3,"v":-174.3},{"s":106,"p":22.8,"v":-176.5},{"s":106,"p":26.9,"v":-180.5},{"s":106,"p":31.7,"v":-184.7},{"s":106,"p":37.3,"v":-187},{"s":106,"p":44,"v":-188.8},{"s":106,"p":51.9,"v":-189.4},{"s":106,"p":61.2,"v":-190.2},{"s":106,"p":72.1,"v":-190.3},{"s":106,"p":85,"v":-190.7},{"s":106,"p":100,"v":-189.9},{"s":106,"p":118,"v":-189.7},{"s":106,"p":139,"v":-189.7},{"s":106,"p":164,"v":-190.4},{"s":106,"p":194,"v":-191.4},{"s":106,"p":228,"v":-192},{"s":106,"p":269,"v":-192.7},{"s":106,"p":317,"v":-193.4},{"s":106,"p":374,"v":-193.7},{"s":106,"p":441,"v":-193.2},{"s":106,"p":520,"v":-191.8},
{"s":107,"p":10,"v":-195.8},{"s":107,"p":11.8,"v":-196.5},{"s":107,"p":13.9,"v":-197.6},{"s":107,"p":16.4,"v":-198.4},{"s":107,"p":19.3,"v":-199.4},{"s":107,"p":22.8,"v":-200.3},
{"s":108,"p":10,"v":-149},{"s":108,"p":11.8,"v":-151},{"s":108,"p":13.9,"v":-152},{"s":108,"p":16.4,"v":-154},{"s":108,"p":19.3,"v":-157},{"s":108,"p":22.8,"v":-158.4},{"s":108,"p":26.9,"v":-156.65},{"s":108,"p":31.7,"v":-156.45},{"s":108,"p":37.3,"v":-155.5},{"s":108,"p":44,"v":-154.6},{"s":108,"p":51.9,"v":-153.6},{"s":108,"p":61.2,"v":-152.6},{"s":108,"p":72.1,"v":-151.7},{"s":108,"p":85,"v":-150.5},{"s":108,"p":100,"v":-149.9},{"s":108,"p":118,"v":-149.1},{"s":108,"p":139,"v":-148.3},{"s":108,"p":164,"v":-147.6},{"s":108,"p":194,"v":-146},{"s":108,"p":228,"v":-144.6},{"s":108,"p":269,"v":-143.4},{"s":108,"p":317,"v":-142.1},{"s":108,"p":374,"v":-140.2},{"s":108,"p":441,"v":-137.9},{"s":108,"p":520,"v":-136.6},
{"s":109,"p":10,"v":-152},{"s":109,"p":11.8,"v":-153},{"s":109,"p":13.9,"v":-154.5},{"s":109,"p":16.4,"v":-156},{"s":109,"p":19.3,"v":-158.5},{"s":109,"p":22.8,"v":-160},{"s":109,"p":26.9,"v":-159.95},{"s":109,"p":31.7,"v":-158.7},{"s":109,"p":37.3,"v":-157.9},{"s":109,"p":44,"v":-157.4},{"s":109,"p":51.9,"v":-156.9},{"s":109,"p":61.2,"v":-155.8},{"s":109,"p":72.1,"v":-154.1},{"s":109,"p":85,"v":-153.2},{"s":109,"p":100,"v":-152.5},{"s":109,"p":118,"v":-150.7},{"s":109,"p":139,"v":-149.95},{"s":109,"p":164,"v":-148.7},{"s":109,"p":194,"v":-146},{"s":109,"p":228,"v":-145.65},{"s":109,"p":269,"v":-144.9},{"s":109,"p":317,"v":-143.8},{"s":109,"p":374,"v":-143.4},{"s":109,"p":441,"v":-142.4},{"s":109,"p":520,"v":-140.35},
{"s":110,"p":10,"v":-150},{"s":110,"p":11.8,"v":-152.5},{"s":110,"p":13.9,"v":-154},{"s":110,"p":16.4,"v":-155.5},{"s":110,"p":19.3,"v":-159},{"s":110,"p":22.8,"v":-161},{"s":110,"p":26.9,"v":-162},{"s":110,"p":31.7,"v":-160},{"s":110,"p":37.3,"v":-158},{"s":110,"p":44,"v":-156.5},{"s":110,"p":51.9,"v":-155.5},{"s":110,"p":61.2,"v":-155.8},{"s":110,"p":72.1,"v":-157.8},{"s":110,"p":85,"v":-157.7},{"s":110,"p":100,"v":-157.2},{"s":110,"p":118,"v":-155.9},{"s":110,"p":139,"v":-157},{"s":110,"p":164,"v":-158.1},{"s":110,"p":194,"v":-158.5},{"s":110,"p":228,"v":-158.2},{"s":110,"p":269,"v":-159.5},{"s":110,"p":317,"v":-161},{"s":110,"p":374,"v":-163.5},{"s":110,"p":441,"v":-165},{"s":110,"p":520,"v":-165.5},
{"s":111,"p":10,"v":-153},{"s":111,"p":11.8,"v":-154},{"s":111,"p":13.9,"v":-156},{"s":111,"p":16.4,"v":-157.5},{"s":111,"p":19.3,"v":-162},{"s":111,"p":22.8,"v":-168.5},{"s":111,"p":26.9,"v":-174},{"s":111,"p":31.7,"v":-176.5},{"s":111,"p":37.3,"v":-176},{"s":111,"p":44,"v":-173.5},{"s":111,"p":51.9,"v":-171.5},{"s":111,"p":61.2,"v":-169.6},{"s":111,"p":72.1,"v":-167.5},{"s":111,"p":85,"v":-165.5},{"s":111,"p":100,"v":-163.5},{"s":111,"p":118,"v":-161},{"s":111,"p":139,"v":-157.5},{"s":111,"p":164,"v":-155},{"s":111,"p":194,"v":-152.4},{"s":111,"p":228,"v":-150.1},{"s":111,"p":269,"v":-147.2},{"s":111,"p":317,"v":-143.8},{"s":111,"p":374,"v":-140.2},{"s":111,"p":441,"v":-137.4},{"s":111,"p":520,"v":-135},
{"s":112,"p":10,"v":-151},{"s":112,"p":11.8,"v":-152.5},{"s":112,"p":13.9,"v":-154},{"s":112,"p":16.4,"v":-155.5},{"s":112,"p":19.3,"v":-160},{"s":112,"p":22.8,"v":-167},{"s":112,"p":26.9,"v":-173.5},{"s":112,"p":31.7,"v":-178},{"s":112,"p":37.3,"v":-180},{"s":112,"p":44,"v":-180.5},{"s":112,"p":51.9,"v":-180},{"s":112,"p":61.2,"v":-178.5},{"s":112,"p":72.1,"v":-176.5},{"s":112,"p":85,"v":-174},{"s":112,"p":100,"v":-171.5},{"s":112,"p":118,"v":-168.5},{"s":112,"p":139,"v":-165.5},{"s":112,"p":164,"v":-162},{"s":112,"p":194,"v":-158.5},{"s":112,"p":228,"v":-155},{"s":112,"p":269,"v":-151.5},{"s":112,"p":317,"v":-148},{"s":112,"p":374,"v":-144.5},{"s":112,"p":441,"v":-141.5},{"s":112,"p":520,"v":-137.9},
{"s":113,"p":10,"v":-148},{"s":113,"p":11.8,"v":-150},{"s":113,"p":13.9,"v":-151.5},{"s":113,"p":16.4,"v":-153},{"s":113,"p":19.3,"v":-157},{"s":113,"p":22.8,"v":-164},{"s":113,"p":26.9,"v":-171},{"s":113,"p":31.7,"v":-176},{"s":113,"p":37.3,"v":-178.5},{"s":113,"p":44,"v":-179.5},{"s":113,"p":51.9,"v":-179},{"s":113,"p":61.2,"v":-177.5},{"s":113,"p":72.1,"v":-175.5},{"s":113,"p":85,"v":-173},{"s":113,"p":100,"v":-170.5},{"s":113,"p":118,"v":-168},{"s":113,"p":139,"v":-165.5},{"s":113,"p":164,"v":-162.5},{"s":113,"p":194,"v":-159.5},{"s":113,"p":228,"v":-157},{"s":113,"p":269,"v":-154},{"s":113,"p":317,"v":-151},{"s":113,"p":374,"v":-148},{"s":113,"p":441,"v":-145},{"s":113,"p":520,"v":-142},
{"s":114,"p":10,"v":-146},{"s":114,"p":11.8,"v":-148},{"s":114,"p":13.9,"v":-149.5},{"s":114,"p":16.4,"v":-151},{"s":114,"p":19.3,"v":-154.5},{"s":114,"p":22.8,"v":-160},{"s":114,"p":26.9,"v":-164},{"s":114,"p":31.7,"v":-166},{"s":114,"p":37.3,"v":-166.5},{"s":114,"p":44,"v":-166},{"s":114,"p":51.9,"v":-165.5},{"s":114,"p":61.2,"v":-165},{"s":114,"p":72.1,"v":-164},{"s":114,"p":85,"v":-163.5},{"s":114,"p":100,"v":-162.5},{"s":114,"p":118,"v":-161},{"s":114,"p":139,"v":-159.5},{"s":114,"p":164,"v":-157.5},{"s":114,"p":194,"v":-156},{"s":114,"p":228,"v":-154},{"s":114,"p":269,"v":-152.5},{"s":114,"p":317,"v":-151},{"s":114,"p":374,"v":-149.5},{"s":114,"p":441,"v":-147.5},{"s":114,"p":520,"v":-145.8},
{"s":115,"p":10,"v":-154},{"s":115,"p":11.8,"v":-155.5},{"s":115,"p":13.9,"v":-156.5},{"s":115,"p":16.4,"v":-158.5},{"s":115,"p":19.3,"v":-163},{"s":115,"p":22.8,"v":-169.5},{"s":115,"p":26.9,"v":-175},{"s":115,"p":31.7,"v":-178},{"s":115,"p":37.3,"v":-179},{"s":115,"p":44,"v":-179.3},{"s":115,"p":51.9,"v":-178.5},{"s":115,"p":61.2,"v":-177},{"s":115,"p":72.1,"v":-175.5},{"s":115,"p":85,"v":-174},{"s":115,"p":100,"v":-172},{"s":115,"p":118,"v":-170},{"s":115,"p":139,"v":-167.5},{"s":115,"p":164,"v":-165},{"s":115,"p":194,"v":-162.5},{"s":115,"p":228,"v":-160},{"s":115,"p":269,"v":-157.5},{"s":115,"p":317,"v":-155.5},{"s":115,"p":374,"v":-153.5},{"s":115,"p":441,"v":-151.5},{"s":115,"p":520,"v":-149.7},
{"s":116,"p":10,"v":-153},{"s":116,"p":11.8,"v":-154.5},{"s":116,"p":13.9,"v":-155.5},{"s":116,"p":16.4,"v":-157},{"s":116,"p":19.3,"v":-161},{"s":116,"p":22.8,"v":-166},{"s":116,"p":26.9,"v":-168},{"s":116,"p":31.7,"v":-167.5},{"s":116,"p":37.3,"v":-166.5},{"s":116,"p":44,"v":-165.5},{"s":116,"p":51.9,"v":-164.5},{"s":116,"p":61.2,"v":-163.5},{"s":116,"p":72.1,"v":-162.5},{"s":116,"p":85,"v":-161.5},{"s":116,"p":100,"v":-160.5},{"s":116,"p":118,"v":-159},{"s":116,"p":139,"v":-157.5},{"s":116,"p":164,"v":-158.2},{"s":116,"p":194,"v":-155.3},{"s":116,"p":228,"v":-154.9},{"s":116,"p":269,"v":-155.3},{"s":116,"p":317,"v":-156.8},{"s":116,"p":374,"v":-158.6},{"s":116,"p":441,"v":-156.9},{"s":116,"p":520,"v":-156.8},
{"s":117,"p":10,"v":-152},{"s":117,"p":11.8,"v":-153},{"s":117,"p":13.9,"v":-154.5},{"s":117,"p":16.4,"v":-156},{"s":117,"p":19.3,"v":-160},{"s":117,"p":22.8,"v":-166.5},{"s":117,"p":26.9,"v":-171},{"s":117,"p":31.7,"v":-173},{"s":117,"p":37.3,"v":-172.5},{"s":117,"p":44,"v":-171},{"s":117,"p":51.9,"v":-169},{"s":117,"p":61.2,"v":-167},{"s":117,"p":72.1,"v":-165},{"s":117,"p":85,"v":-163.5},{"s":117,"p":100,"v":-162},{"s":117,"p":118,"v":-160.5},{"s":117,"p":139,"v":-158.7},{"s":117,"p":164,"v":-158.7},{"s":117,"p":194,"v":-156.9},{"s":117,"p":228,"v":-157.2},{"s":117,"p":269,"v":-157.4},{"s":117,"p":317,"v":-159.1},{"s":117,"p":374,"v":-160.9},{"s":117,"p":441,"v":-162.9},{"s":117,"p":520,"v":-163.05},
{"s":118,"p":10,"v":-152.5},{"s":118,"p":11.8,"v":-154},{"s":118,"p":13.9,"v":-155},{"s":118,"p":16.4,"v":-157},{"s":118,"p":19.3,"v":-161.5},{"s":118,"p":22.8,"v":-168.5},{"s":118,"p":26.9,"v":-175},{"s":118,"p":31.7,"v":-179},{"s":118,"p":37.3,"v":-181},{"s":118,"p":44,"v":-182},{"s":118,"p":51.9,"v":-182.3},{"s":118,"p":61.2,"v":-182},{"s":118,"p":72.1,"v":-181.5},{"s":118,"p":85,"v":-181},{"s":118,"p":100,"v":-180.5},{"s":118,"p":118,"v":-180},{"s":118,"p":139,"v":-179},{"s":118,"p":164,"v":-178},{"s":118,"p":194,"v":-176.5},{"s":118,"p":228,"v":-175},{"s":118,"p":269,"v":-172.5},{"s":118,"p":317,"v":-165.2},{"s":118,"p":374,"v":-174},{"s":118,"p":441,"v":-183},{"s":118,"p":520,"v":-181.5},
{"s":119,"p":10,"v":-151.5},{"s":119,"p":11.8,"v":-153},{"s":119,"p":13.9,"v":-154},{"s":119,"p":16.4,"v":-156},{"s":119,"p":19.3,"v":-160.5},{"s":119,"p":22.8,"v":-167.5},{"s":119,"p":26.9,"v":-174},{"s":119,"p":31.7,"v":-178.5},{"s":119,"p":37.3,"v":-181},{"s":119,"p":44,"v":-181.5},{"s":119,"p":51.9,"v":-181.5},{"s":119,"p":61.2,"v":-180.5},{"s":119,"p":72.1,"v":-179.2},{"s":119,"p":85,"v":-173.5},{"s":119,"p":100,"v":-178},{"s":119,"p":118,"v":-179.5},{"s":119,"p":139,"v":-180},{"s":119,"p":164,"v":-180.5},{"s":119,"p":194,"v":-181},{"s":119,"p":228,"v":-181.3},{"s":119,"p":269,"v":-181},{"s":119,"p":317,"v":-180.5},{"s":119,"p":374,"v":-179.8},{"s":119,"p":441,"v":-179},{"s":119,"p":520,"v":-178.2},
{"s":120,"p":10,"v":-149},{"s":120,"p":11.8,"v":-151},{"s":120,"p":13.9,"v":-152.5},{"s":120,"p":16.4,"v":-154},{"s":120,"p":19.3,"v":-158},{"s":120,"p":22.8,"v":-164},{"s":120,"p":26.9,"v":-168.5},{"s":120,"p":31.7,"v":-170},{"s":120,"p":37.3,"v":-170.5},{"s":120,"p":44,"v":-170},{"s":120,"p":51.9,"v":-169.5},{"s":120,"p":61.2,"v":-169},{"s":120,"p":72.1,"v":-168.5},{"s":120,"p":85,"v":-168},{"s":120,"p":100,"v":-168.3},{"s":120,"p":118,"v":-167.8},{"s":120,"p":139,"v":-167},{"s":120,"p":164,"v":-166.5},{"s":120,"p":194,"v":-166},{"s":120,"p":228,"v":-165},{"s":120,"p":269,"v":-164},{"s":120,"p":317,"v":-162.5},{"s":120,"p":374,"v":-161},{"s":120,"p":441,"v":-160},{"s":120,"p":520,"v":-158.9},
{"s":121,"p":10,"v":-147.5},{"s":121,"p":11.8,"v":-149.5},{"s":121,"p":13.9,"v":-151},{"s":121,"p":16.4,"v":-152.5},{"s":121,"p":19.3,"v":-156},{"s":121,"p":22.8,"v":-161},{"s":121,"p":26.9,"v":-163.5},{"s":121,"p":31.7,"v":-164},{"s":121,"p":37.3,"v":-163.5},{"s":121,"p":44,"v":-162.5},{"s":121,"p":51.9,"v":-162.5},{"s":121,"p":61.2,"v":-163.4},{"s":121,"p":72.1,"v":-164},{"s":121,"p":85,"v":-164.5},{"s":121,"p":100,"v":-165.3},{"s":121,"p":118,"v":-166},{"s":121,"p":139,"v":-166.5},{"s":121,"p":164,"v":-166.8},{"s":121,"p":194,"v":-167},{"s":121,"p":228,"v":-166.5},{"s":121,"p":269,"v":-165.5},{"s":121,"p":317,"v":-164},{"s":121,"p":374,"v":-162},{"s":121,"p":441,"v":-160.5},{"s":121,"p":520,"v":-159.3},
{"s":122,"p":10,"v":-154.5},{"s":122,"p":11.8,"v":-156},{"s":122,"p":13.9,"v":-157},{"s":122,"p":16.4,"v":-159},{"s":122,"p":19.3,"v":-163.5},{"s":122,"p":22.8,"v":-170},{"s":122,"p":26.9,"v":-175.5},{"s":122,"p":31.7,"v":-178.5},{"s":122,"p":37.3,"v":-179},{"s":122,"p":44,"v":-178.5},{"s":122,"p":51.9,"v":-177.5},{"s":122,"p":61.2,"v":-176.5},{"s":122,"p":72.1,"v":-175.5},{"s":122,"p":85,"v":-174.5},{"s":122,"p":100,"v":-173.5},{"s":122,"p":118,"v":-172.5},{"s":122,"p":139,"v":-171.5},{"s":122,"p":164,"v":-170.5},{"s":122,"p":194,"v":-169.5},{"s":122,"p":228,"v":-168},{"s":122,"p":269,"v":-166.5},{"s":122,"p":317,"v":-165},{"s":122,"p":374,"v":-163.5},{"s":122,"p":441,"v":-162},{"s":122,"p":520,"v":-160.35},
{"s":123,"p":10,"v":-150},{"s":123,"p":11.8,"v":-152},{"s":123,"p":13.9,"v":-153},{"s":123,"p":16.4,"v":-154.5},{"s":123,"p":19.3,"v":-158.5},{"s":123,"p":22.8,"v":-165},{"s":123,"p":26.9,"v":-171},{"s":123,"p":31.7,"v":-175},{"s":123,"p":37.3,"v":-176},{"s":123,"p":44,"v":-175.5},{"s":123,"p":51.9,"v":-174.5},{"s":123,"p":61.2,"v":-174},{"s":123,"p":72.1,"v":-173.8},{"s":123,"p":85,"v":-173.5},{"s":123,"p":100,"v":-173},{"s":123,"p":118,"v":-172.5},{"s":123,"p":139,"v":-172},{"s":123,"p":164,"v":-171.6},{"s":123,"p":194,"v":-171},{"s":123,"p":228,"v":-170},{"s":123,"p":269,"v":-169},{"s":123,"p":317,"v":-167.5},{"s":123,"p":374,"v":-166},{"s":123,"p":441,"v":-164},{"s":123,"p":520,"v":-162.3},
{"s":124,"p":10,"v":-152},{"s":124,"p":11.8,"v":-153.5},{"s":124,"p":13.9,"v":-154.5},{"s":124,"p":16.4,"v":-156.5},{"s":124,"p":19.3,"v":-161},{"s":124,"p":22.8,"v":-168},{"s":124,"p":26.9,"v":-174},{"s":124,"p":31.7,"v":-178},{"s":124,"p":37.3,"v":-179.5},{"s":124,"p":44,"v":-179.8},{"s":124,"p":51.9,"v":-179},{"s":124,"p":61.2,"v":-178},{"s":124,"p":72.1,"v":-177.5},{"s":124,"p":85,"v":-177},{"s":124,"p":100,"v":-176.5},{"s":124,"p":118,"v":-176},{"s":124,"p":139,"v":-175.5},{"s":124,"p":164,"v":-175},{"s":124,"p":194,"v":-174.5},{"s":124,"p":228,"v":-173.5},{"s":124,"p":269,"v":-172},{"s":124,"p":317,"v":-170.5},{"s":124,"p":374,"v":-168.5},{"s":124,"p":441,"v":-166.5},{"s":124,"p":520,"v":-164.8},
{"s":125,"p":10,"v":-148.5},{"s":125,"p":11.8,"v":-150},{"s":125,"p":13.9,"v":-151.5},{"s":125,"p":16.4,"v":-153},{"s":125,"p":19.3,"v":-157},{"s":125,"p":22.8,"v":-163.5},{"s":125,"p":26.9,"v":-169.5},{"s":125,"p":31.7,"v":-173},{"s":125,"p":37.3,"v":-174},{"s":125,"p":44,"v":-173.5},{"s":125,"p":51.9,"v":-172},{"s":125,"p":61.2,"v":-170.5},{"s":125,"p":72.1,"v":-170},{"s":125,"p":85,"v":-169.8},{"s":125,"p":100,"v":-170.3},{"s":125,"p":118,"v":-170.5},{"s":125,"p":139,"v":-171},{"s":125,"p":164,"v":-171.5},{"s":125,"p":194,"v":-171.8},{"s":125,"p":228,"v":-172},{"s":125,"p":269,"v":-171.5},{"s":125,"p":317,"v":-170.5},{"s":125,"p":374,"v":-169},{"s":125,"p":441,"v":-167.5},{"s":125,"p":520,"v":-166.4},
{"s":126,"p":10,"v":-155.5},{"s":126,"p":11.8,"v":-157},{"s":126,"p":13.9,"v":-158},{"s":126,"p":16.4,"v":-160},{"s":126,"p":19.3,"v":-164.5},{"s":126,"p":22.8,"v":-171},{"s":126,"p":26.9,"v":-176.5},{"s":126,"p":31.7,"v":-179.5},{"s":126,"p":37.3,"v":-180.5},{"s":126,"p":44,"v":-180.5},{"s":126,"p":51.9,"v":-180},{"s":126,"p":61.2,"v":-179.3},{"s":126,"p":72.1,"v":-178.5},{"s":126,"p":85,"v":-178},{"s":126,"p":100,"v":-177.5},{"s":126,"p":118,"v":-177.2},{"s":126,"p":139,"v":-176.8},{"s":126,"p":164,"v":-176.5},{"s":126,"p":194,"v":-176},{"s":126,"p":228,"v":-175.2},{"s":126,"p":269,"v":-174},{"s":126,"p":317,"v":-172.5},{"s":126,"p":374,"v":-171},{"s":126,"p":441,"v":-169.5},{"s":126,"p":520,"v":-168.3},
{"s":127,"p":10,"v":-151},{"s":127,"p":11.8,"v":-152.5},{"s":127,"p":13.9,"v":-154},{"s":127,"p":16.4,"v":-155.5},{"s":127,"p":19.3,"v":-160},{"s":127,"p":22.8,"v":-166.5},{"s":127,"p":26.9,"v":-171.5},{"s":127,"p":31.7,"v":-173},{"s":127,"p":37.3,"v":-171.5},{"s":127,"p":44,"v":-169},{"s":127,"p":51.9,"v":-166.5},{"s":127,"p":61.2,"v":-164.9},{"s":127,"p":72.1,"v":-164},{"s":127,"p":85,"v":-161.7},{"s":127,"p":100,"v":-160.6},{"s":127,"p":118,"v":-159.3},{"s":127,"p":139,"v":-160.5},{"s":127,"p":164,"v":-162},{"s":127,"p":194,"v":-163},{"s":127,"p":228,"v":-164},{"s":127,"p":269,"v":-165.5},{"s":127,"p":317,"v":-167},{"s":127,"p":374,"v":-168.5},{"s":127,"p":441,"v":-169.5},{"s":127,"p":520,"v":-170.5},
{"s":128,"p":10,"v":-150.5},{"s":128,"p":11.8,"v":-152},{"s":128,"p":13.9,"v":-153},{"s":128,"p":16.4,"v":-155},{"s":128,"p":19.3,"v":-158},{"s":128,"p":22.8,"v":-160.5},{"s":128,"p":26.9,"v":-160},{"s":128,"p":31.7,"v":-159},{"s":128,"p":37.3,"v":-158.5},{"s":128,"p":44,"v":-158.2},{"s":128,"p":51.9,"v":-158},{"s":128,"p":61.2,"v":-158.8},{"s":128,"p":72.1,"v":-159.5},{"s":128,"p":85,"v":-158.6},{"s":128,"p":100,"v":-158.6},{"s":128,"p":118,"v":-160.6},{"s":128,"p":139,"v":-162},{"s":128,"p":164,"v":-163.5},{"s":128,"p":194,"v":-165},{"s":128,"p":228,"v":-166},{"s":128,"p":269,"v":-167},{"s":128,"p":317,"v":-168},{"s":128,"p":374,"v":-168.5},{"s":128,"p":441,"v":-169},{"s":128,"p":520,"v":-168.8},
{"s":129,"p":10,"v":-152},{"s":129,"p":11.8,"v":-153},{"s":129,"p":13.9,"v":-154.5},{"s":129,"p":16.4,"v":-156},{"s":129,"p":19.3,"v":-160},{"s":129,"p":22.8,"v":-165},{"s":129,"p":26.9,"v":-166},{"s":129,"p":31.7,"v":-165},{"s":129,"p":37.3,"v":-164},{"s":129,"p":44,"v":-163},{"s":129,"p":51.9,"v":-162.5},{"s":129,"p":61.2,"v":-163.4},{"s":129,"p":72.1,"v":-163.5},{"s":129,"p":85,"v":-164},{"s":129,"p":100,"v":-165},{"s":129,"p":118,"v":-166},{"s":129,"p":139,"v":-167},{"s":129,"p":164,"v":-168},{"s":129,"p":194,"v":-169},{"s":129,"p":228,"v":-170},{"s":129,"p":269,"v":-171},{"s":129,"p":317,"v":-172},{"s":129,"p":374,"v":-172.5},{"s":129,"p":441,"v":-173},{"s":129,"p":520,"v":-173.5},
{"s":130,"p":10,"v":-153},{"s":130,"p":11.8,"v":-154.5},{"s":130,"p":13.9,"v":-155.5},{"s":130,"p":16.4,"v":-157.5},{"s":130,"p":19.3,"v":-162},{"s":130,"p":22.8,"v":-169},{"s":130,"p":26.9,"v":-174.5},{"s":130,"p":31.7,"v":-177},{"s":130,"p":37.3,"v":-177.5},{"s":130,"p":44,"v":-176},{"s":130,"p":51.9,"v":-172},{"s":130,"p":61.2,"v":-168.5},{"s":130,"p":72.1,"v":-166.1},{"s":130,"p":85,"v":-164.7},{"s":130,"p":100,"v":-165.8},{"s":130,"p":118,"v":-169},{"s":130,"p":139,"v":-171},{"s":130,"p":164,"v":-172},{"s":130,"p":194,"v":-172.5},{"s":130,"p":228,"v":-173},{"s":130,"p":269,"v":-173.5},{"s":130,"p":317,"v":-174},{"s":130,"p":374,"v":-173.5},{"s":130,"p":441,"v":-173},{"s":130,"p":520,"v":-172.5},
{"s":131,"p":10,"v":-147},{"s":131,"p":11.8,"v":-150.5},{"s":131,"p":13.9,"v":-149},{"s":131,"p":16.4,"v":-152},{"s":131,"p":19.3,"v":-157},{"s":131,"p":22.8,"v":-164},{"s":131,"p":26.9,"v":-170},{"s":131,"p":31.7,"v":-174},{"s":131,"p":37.3,"v":-176},{"s":131,"p":44,"v":-177},{"s":131,"p":51.9,"v":-176.5},{"s":131,"p":61.2,"v":-175},{"s":131,"p":72.1,"v":-176},{"s":131,"p":85,"v":-174.5},{"s":131,"p":100,"v":-175.5},{"s":131,"p":118,"v":-176.5},{"s":131,"p":139,"v":-175},{"s":131,"p":164,"v":-176},{"s":131,"p":194,"v":-177.5},{"s":131,"p":228,"v":-178},{"s":131,"p":269,"v":-177},{"s":131,"p":317,"v":-175.5},{"s":131,"p":374,"v":-176},{"s":131,"p":441,"v":-173},{"s":131,"p":520,"v":-171},
{"s":132,"p":10,"v":-150},{"s":132,"p":11.8,"v":-149.5},{"s":132,"p":13.9,"v":-152.5},{"s":132,"p":16.4,"v":-154},{"s":132,"p":19.3,"v":-159},{"s":132,"p":22.8,"v":-166},{"s":132,"p":26.9,"v":-172},{"s":132,"p":31.7,"v":-176.5},{"s":132,"p":37.3,"v":-178},{"s":132,"p":44,"v":-177.5},{"s":132,"p":51.9,"v":-177},{"s":132,"p":61.2,"v":-177.8},{"s":132,"p":72.1,"v":-176.5},{"s":132,"p":85,"v":-177},{"s":132,"p":100,"v":-178},{"s":132,"p":118,"v":-177.2},{"s":132,"p":139,"v":-178.5},{"s":132,"p":164,"v":-178},{"s":132,"p":194,"v":-176.5},{"s":132,"p":228,"v":-177},{"s":132,"p":269,"v":-178.5},{"s":132,"p":317,"v":-177.5},{"s":132,"p":374,"v":-175},{"s":132,"p":441,"v":-172.5},{"s":132,"p":520,"v":-169},
{"s":133,"p":10,"v":-153.5},{"s":133,"p":11.8,"v":-152},{"s":133,"p":13.9,"v":-155},{"s":133,"p":16.4,"v":-157},{"s":133,"p":19.3,"v":-162},{"s":133,"p":22.8,"v":-168},{"s":133,"p":26.9,"v":-173.5},{"s":133,"p":31.7,"v":-176},{"s":133,"p":37.3,"v":-176.5},{"s":133,"p":44,"v":-175},{"s":133,"p":51.9,"v":-173.5},{"s":133,"p":61.2,"v":-174.5},{"s":133,"p":72.1,"v":-175.5},{"s":133,"p":85,"v":-174},{"s":133,"p":100,"v":-172.5},{"s":133,"p":118,"v":-173},{"s":133,"p":139,"v":-174},{"s":133,"p":164,"v":-172.5},{"s":133,"p":194,"v":-171.5},{"s":133,"p":228,"v":-173},{"s":133,"p":269,"v":-174.5},{"s":133,"p":317,"v":-173},{"s":133,"p":374,"v":-171},{"s":133,"p":441,"v":-169.5},{"s":133,"p":520,"v":-167.8},
{"s":134,"p":10,"v":-149.5},{"s":134,"p":11.8,"v":-151},{"s":134,"p":13.9,"v":-153.5},{"s":134,"p":16.4,"v":-153},{"s":134,"p":19.3,"v":-158},{"s":134,"p":22.8,"v":-165},{"s":134,"p":26.9,"v":-171},{"s":134,"p":31.7,"v":-175},{"s":134,"p":37.3,"v":-177.5},{"s":134,"p":44,"v":-178.5},{"s":134,"p":51.9,"v":-178},{"s":134,"p":61.2,"v":-178.8},{"s":134,"p":72.1,"v":-179.5},{"s":134,"p":85,"v":-178.2},{"s":134,"p":100,"v":-177},{"s":134,"p":118,"v":-175.5},{"s":134,"p":139,"v":-176.5},{"s":134,"p":164,"v":-177.5},{"s":134,"p":194,"v":-176},{"s":134,"p":228,"v":-174.5},{"s":134,"p":269,"v":-175},{"s":134,"p":317,"v":-176.5},{"s":134,"p":374,"v":-177.5},{"s":134,"p":441,"v":-176},{"s":134,"p":520,"v":-174.5},
{"s":135,"p":10,"v":-152.5},{"s":135,"p":11.8,"v":-154.5},{"s":135,"p":13.9,"v":-153.5},{"s":135,"p":16.4,"v":-156.5},{"s":135,"p":19.3,"v":-161},{"s":135,"p":22.8,"v":-167.5},{"s":135,"p":26.9,"v":-173},{"s":135,"p":31.7,"v":-177.5},{"s":135,"p":37.3,"v":-180},{"s":135,"p":44,"v":-181},{"s":135,"p":51.9,"v":-180.5},{"s":135,"p":61.2,"v":-179.5},{"s":135,"p":72.1,"v":-180.2},{"s":135,"p":85,"v":-179},{"s":135,"p":100,"v":-178.5},{"s":135,"p":118,"v":-179.5},{"s":135,"p":139,"v":-178},{"s":135,"p":164,"v":-177},{"s":135,"p":194,"v":-177.8},{"s":135,"p":228,"v":-178.5},{"s":135,"p":269,"v":-179},{"s":135,"p":317,"v":-178},{"s":135,"p":374,"v":-176.5},{"s":135,"p":441,"v":-175},{"s":135,"p":520,"v":-173.2},
{"s":136,"p":10,"v":-151},{"s":136,"p":11.8,"v":-153.5},{"s":136,"p":13.9,"v":-155},{"s":136,"p":16.4,"v":-154.5},{"s":136,"p":19.3,"v":-159.5},{"s":136,"p":22.8,"v":-166},{"s":136,"p":26.9,"v":-170.5},{"s":136,"p":31.7,"v":-172},{"s":136,"p":37.3,"v":-171},{"s":136,"p":44,"v":-170.5},{"s":136,"p":51.9,"v":-171.5},{"s":136,"p":61.2,"v":-172.5},{"s":136,"p":72.1,"v":-171.5},{"s":136,"p":85,"v":-170.5},{"s":136,"p":100,"v":-171.5},{"s":136,"p":118,"v":-173},{"s":136,"p":139,"v":-172},{"s":136,"p":164,"v":-170},{"s":136,"p":194,"v":-169},{"s":136,"p":228,"v":-170.5},{"s":136,"p":269,"v":-169.5},{"s":136,"p":317,"v":-168},{"s":136,"p":374,"v":-167},{"s":136,"p":441,"v":-165.5},{"s":136,"p":520,"v":-164},
{"s":137,"p":10,"v":-154},{"s":137,"p":11.8,"v":-153},{"s":137,"p":13.9,"v":-156},{"s":137,"p":16.4,"v":-158},{"s":137,"p":19.3,"v":-163},{"s":137,"p":22.8,"v":-170},{"s":137,"p":26.9,"v":-175.5},{"s":137,"p":31.7,"v":-179},{"s":137,"p":37.3,"v":-180.5},{"s":137,"p":44,"v":-181},{"s":137,"p":51.9,"v":-181.5},{"s":137,"p":61.2,"v":-181},{"s":137,"p":72.1,"v":-180},{"s":137,"p":85,"v":-180.8},{"s":137,"p":100,"v":-181.5},{"s":137,"p":118,"v":-180.5},{"s":137,"p":139,"v":-179.5},{"s":137,"p":164,"v":-180},{"s":137,"p":194,"v":-181},{"s":137,"p":228,"v":-180.5},{"s":137,"p":269,"v":-179.5},{"s":137,"p":317,"v":-179},{"s":137,"p":374,"v":-178.5},{"s":137,"p":441,"v":-177.5},{"s":137,"p":520,"v":-176.5},
{"s":138,"p":10,"v":-148},{"s":138,"p":11.8,"v":-151.5},{"s":138,"p":13.9,"v":-150.5},{"s":138,"p":16.4,"v":-153.5},{"s":138,"p":19.3,"v":-157.5},{"s":138,"p":22.8,"v":-163},{"s":138,"p":26.9,"v":-167},{"s":138,"p":31.7,"v":-169},{"s":138,"p":37.3,"v":-168},{"s":138,"p":44,"v":-167},{"s":138,"p":51.9,"v":-168.5},{"s":138,"p":61.2,"v":-169.5},{"s":138,"p":72.1,"v":-168},{"s":138,"p":85,"v":-166.5},{"s":138,"p":100,"v":-167.5},{"s":138,"p":118,"v":-168.5},{"s":138,"p":139,"v":-169.5},{"s":138,"p":164,"v":-168.5},{"s":138,"p":194,"v":-167},{"s":138,"p":228,"v":-168},{"s":138,"p":269,"v":-169.5},{"s":138,"p":317,"v":-170.5},{"s":138,"p":374,"v":-171.5},{"s":138,"p":441,"v":-172},{"s":138,"p":520,"v":-171.5},
{"s":139,"p":10,"v":-155.5},{"s":139,"p":11.8,"v":-156.5},{"s":139,"p":13.9,"v":-158.5},{"s":139,"p":16.4,"v":-159},{"s":139,"p":19.3,"v":-164},{"s":139,"p":22.8,"v":-171},{"s":139,"p":26.9,"v":-176.5},{"s":139,"p":31.7,"v":-180},{"s":139,"p":37.3,"v":-181.8},{"s":139,"p":44,"v":-182.5},{"s":139,"p":51.9,"v":-182},{"s":139,"p":61.2,"v":-181.3},{"s":139,"p":72.1,"v":-181.8},{"s":139,"p":85,"v":-182.5},{"s":139,"p":100,"v":-181.5},{"s":139,"p":118,"v":-180.8},{"s":139,"p":139,"v":-181.5},{"s":139,"p":164,"v":-182.2},{"s":139,"p":194,"v":-181},{"s":139,"p":228,"v":-180},{"s":139,"p":269,"v":-179.5},{"s":139,"p":317,"v":-180.2},{"s":139,"p":374,"v":-179},{"s":139,"p":441,"v":-177.5},{"s":139,"p":520,"v":-175.5},
{"s":140,"p":10,"v":-150.5},{"s":140,"p":11.8,"v":-152},{"s":140,"p":13.9,"v":-154},{"s":140,"p":16.4,"v":-156},{"s":140,"p":19.3,"v":-160},{"s":140,"p":22.8,"v":-165.5},{"s":140,"p":26.9,"v":-169},{"s":140,"p":31.7,"v":-171.5},{"s":140,"p":37.3,"v":-173},{"s":140,"p":44,"v":-174.5},{"s":140,"p":51.9,"v":-175.5},{"s":140,"p":61.2,"v":-176},{"s":140,"p":72.1,"v":-175},{"s":140,"p":85,"v":-176.5},{"s":140,"p":100,"v":-177.5},{"s":140,"p":118,"v":-176.5},{"s":140,"p":139,"v":-175.5},{"s":140,"p":164,"v":-174.5},{"s":140,"p":194,"v":-175.5},{"s":140,"p":228,"v":-176.5},{"s":140,"p":269,"v":-177.5},{"s":140,"p":317,"v":-178.5},{"s":140,"p":374,"v":-178},{"s":140,"p":441,"v":-177},{"s":140,"p":520,"v":-175.8}
]},
"layer":[
{"data":{"name":"nlnm"},
 "mark":{"type":"line","color":"#ff2a00","strokeWidth":7,"clip":true},
 "encoding":{
  "x":{"field":"p","type":"quantitative","scale":{"type":"log","domain":[7.1,696.5],"nice":false},
   "axis":{"orient":"bottom","values":[10,100],"labelExpr":"format(datum.value,'.1f')","ticks":false,"domain":true,"labelFontSize":40,"labelPadding":35,"labelBaseline":"alphabetic","labelFlush":false,"labelOverlap":false,"title":"Period","titleFontSize":53,"titleFontWeight":200,"titleX":675,"titleY":82,"titleBaseline":"alphabetic"}},
  "y":{"field":"v","type":"quantitative","scale":{"domain":[-200,-105],"nice":false,"zero":false},
   "axis":{"orient":"left","values":[-200,-190,-180,-170,-160,-150,-140,-130,-120,-110],"ticks":false,"domain":true,"labelFontSize":40,"labelPadding":7,"labelFlush":false,"labelOverlap":false,"title":"Power spectral density (dB)","titleFontSize":58,"titleFontWeight":200,"titleAngle":270,"titleX":-134,"titleY":553,"titleBaseline":"alphabetic"}}}},
{"data":{"name":"bundle"},
 "mark":{"type":"line","color":"black","strokeWidth":1.5,"clip":true},
 "encoding":{
  "x":{"field":"p","type":"quantitative","scale":{"type":"log","domain":[7.1,696.5],"nice":false},
   "axis":{"orient":"bottom","values":[10,100],"tickSize":-29,"labels":false,"domain":false,"title":null}},
  "y":{"field":"v","type":"quantitative","scale":{"domain":[-200,-105],"nice":false,"zero":false},
   "axis":{"orient":"left","values":[-200,-190,-180,-170,-160,-150,-140,-130,-120,-110],"tickSize":-29,"labels":false,"domain":false,"title":null}},
  "detail":{"field":"s","type":"nominal"}}},
{"data":{"name":"others"},
 "mark":{"type":"line","color":"black","strokeWidth":1.4,"clip":true},
 "encoding":{
  "x":{"field":"p","type":"quantitative","scale":{"type":"log","domain":[7.1,696.5],"nice":false},
   "axis":{"orient":"bottom","values":[8,9,20,30,40,50,60,70,80,90,200,300,400,500,600],"tickSize":-14,"labels":false,"domain":false,"title":null}},
  "y":{"field":"v","type":"quantitative","scale":{"domain":[-200,-105],"nice":false,"zero":false},
   "axis":{"orient":"right","values":[-200,-190,-180,-170,-160,-150,-140,-130,-120,-110],"tickSize":-29,"labels":false,"domain":false,"title":null}},
  "detail":{"field":"s","type":"nominal"}}},
{"data":{"values":[{}]},
 "mark":{"type":"text","text":["141 stations, LHZ channel","Time period: 2009/10/30−2009/11/13","Minimum # of samples: \u00a080","Signal sample length: 1 hour"],"font":"DejaVu Sans","fontWeight":200,"fontSize":43,"lineHeight":40.7,"align":"left","baseline":"alphabetic","color":"black"},
 "encoding":{
  "x":{"datum":8.1,"type":"quantitative","scale":{"type":"log","domain":[7.1,696.5],"nice":false},
   "axis":{"orient":"top","values":[10,100],"tickSize":-29,"labels":false,"domain":true,"title":null}},
  "y":{"datum":-110.1,"type":"quantitative","scale":{"domain":[-200,-105],"nice":false,"zero":false},"axis":null}}},
{"data":{"values":[{}]},
 "mark":{"type":"text","text":"Low Noise Model of Peterson (1993)","font":"DejaVu Sans","fontWeight":200,"fontSize":43,"align":"left","baseline":"alphabetic","color":"#ff2a00"},
 "encoding":{
  "x":{"datum":8.1,"type":"quantitative","scale":{"type":"log","domain":[7.1,696.5],"nice":false},
   "axis":{"orient":"top","values":[8,9,20,30,40,50,60,70,80,90,200,300,400,500,600],"tickSize":-14,"labels":false,"domain":false,"title":null}},
  "y":{"datum":-196.9,"type":"quantitative","scale":{"domain":[-200,-105],"nice":false,"zero":false},"axis":null}}}
]
}
